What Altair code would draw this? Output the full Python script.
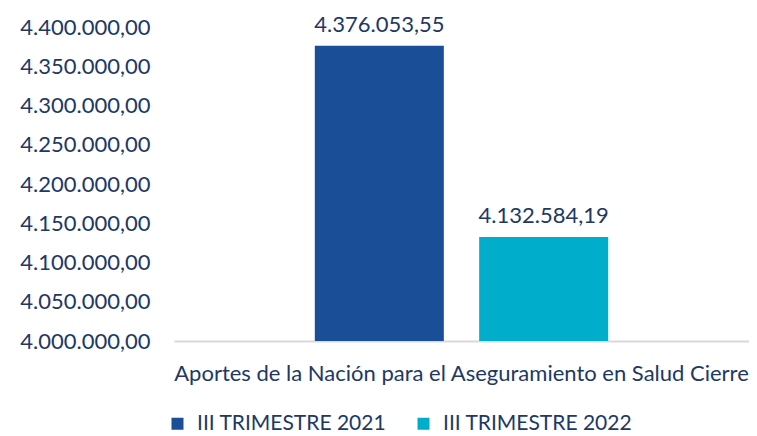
import altair as alt
import pandas as pd

category = "Aportes de la Nación para el Aseguramiento en Salud Cierre"
series = ["III TRIMESTRE 2021", "III TRIMESTRE 2022"]
values = [4376053.55, 4132584.19]
colors = ["#1A4F97", "#00AECB"]
y_ticks = [4000000, 4050000, 4100000, 4150000, 4200000, 4250000, 4300000, 4350000, 4400000]


def es_fmt(v):
    s = f"{v:,.2f}"
    return s.replace(",", "#").replace(".", ",").replace("#", ".")


df = pd.DataFrame({
    "cat": [category] * len(series),
    "serie": series,
    "valor": values,
    "etiqueta": [es_fmt(v) for v in values],
})

TEXT = "#203864"
FONT = "Lato"
FS = 22

base = alt.Chart(df).encode(
    x=alt.X("cat:N", title=None,
            scale=alt.Scale(paddingInner=0, paddingOuter=0.48),
            axis=alt.Axis(labelAngle=0, ticks=False, domainColor="#D9D9D9",
                          domainWidth=2, labelFontSize=FS, labelColor=TEXT,
                          labelFont=FONT, labelPadding=22, labelLimit=800)),
    xOffset=alt.XOffset("serie:N", sort=series,
                        scale=alt.Scale(paddingInner=0.215, paddingOuter=0)),
    y=alt.Y("valor:Q", title=None,
            scale=alt.Scale(domain=[y_ticks[0], y_ticks[-1]], zero=False, nice=False),
            axis=alt.Axis(values=y_ticks,
                          grid=False, domain=False, ticks=False, labelOverlap=False,
                          labelPadding=24, labelFontSize=FS, labelColor=TEXT,
                          labelFont=FONT,
                          labelExpr="replace(replace(replace(format(datum.value, ',.2f'), /,/g, '#'), /\\./g, ','), /#/g, '.')")),
)

bars = base.mark_bar(clip=True).encode(
    color=alt.Color("serie:N", sort=series,
                    scale=alt.Scale(domain=series, range=colors),
                    legend=alt.Legend(title=None, orient="none", direction="horizontal",
                                      legendX=-7, legendY=386, symbolType="square",
                                      symbolSize=144, symbolStrokeWidth=0,
                                      labelFontSize=21, labelColor=TEXT, labelFont=FONT,
                                      labelLimit=400, labelOffset=9, columnPadding=26)),
)

labels = base.mark_text(baseline="bottom", dy=-9, fontSize=FS, color=TEXT, font=FONT).encode(
    text="etiqueta:N",
)

chart = alt.layer(bars, labels).properties(
    width=575, height=314,
    padding={"left": 166, "top": 19, "right": 0, "bottom": 95},
    autosize=alt.AutoSizeParams(type="none"),
    background="white",
).configure_view(stroke=None)

chart.save("out.html", embed_options={"renderer": "svg", "actions": False})
